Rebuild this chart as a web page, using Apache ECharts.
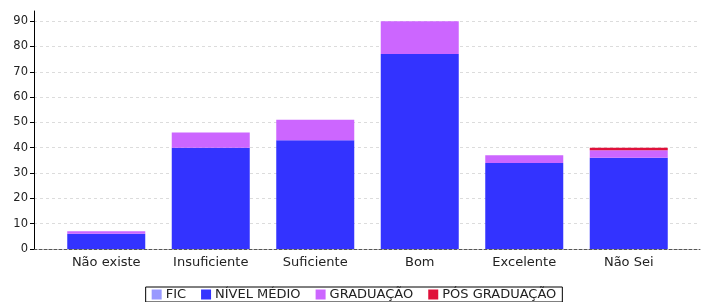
<!DOCTYPE html>
<html>
<head>
<meta charset="utf-8">
<script src="https://cdn.jsdelivr.net/npm/echarts@6/dist/echarts.min.js"></script>
<style>
  html, body { margin: 0; padding: 0; background: #fff; }
  #chart { width: 708px; height: 302px; }
</style>
</head>
<body>
<div id="chart"></div>
<script>
// categorias e valores
var categories = ['Não existe', 'Insuficiente', 'Suficiente', 'Bom', 'Excelente', 'Não Sei'];
var seriesNames = ['FIC', 'NÍVEL MÉDIO', 'GRADUAÇÃO', 'PÓS GRADUAÇÃO'];
var ficData = [0, 0, 0, 0, 0, 0];
var nivelMedioData = [6, 40, 43, 77, 34, 36];
var graduacaoData = [1, 6, 8, 13, 3, 3];
var posGraduacaoData = [0, 0, 0, 0, 0, 1];
var colors = ['#9999ff', '#3333ff', '#cc66ff', '#e0103a'];

var FONT = 'DejaVu Sans';
var Y_MAX = 94;

var chart = echarts.init(document.getElementById('chart'));

function barSeries(name, data, color) {
    return {
        name: name,
        type: 'bar',
        stack: 'total',
        xAxisIndex: 1,
        yAxisIndex: 1,
        barWidth: 78,
        data: data,
        itemStyle: { color: color },
        emphasis: { disabled: true }
    };
}

var option = {
    animation: false,
    backgroundColor: '#fff',
    textStyle: { fontFamily: FONT },
    // grid 0: eixo Y e linha de base ocupando toda a área
    // grid 1: barras com margens laterais
    grid: [
        { left: 34, right: 8, top: 11, bottom: 53 },
        { left: 54, right: 27, top: 11, bottom: 53 }
    ],
    legend: {
        data: seriesNames,
        bottom: 0,
        left: 'center',
        icon: 'rect',
        itemWidth: 10,
        itemHeight: 10,
        itemGap: 15,
        padding: [1, 6, 1, 6],
        borderColor: '#000',
        borderWidth: 1,
        textStyle: { fontFamily: FONT, fontSize: 13, color: '#222', padding: [0, 0, 0, -1] }
    },
    xAxis: [
        {
            gridIndex: 0,
            type: 'value',
            min: 0,
            max: 1,
            axisLine: { show: true, lineStyle: { color: '#555', type: [3, 2] } },
            axisTick: { show: false },
            axisLabel: { show: false },
            splitLine: { show: false }
        },
        {
            gridIndex: 1,
            type: 'category',
            data: categories,
            axisLine: { show: false },
            axisTick: { show: false },
            axisLabel: { fontFamily: FONT, fontSize: 13, color: '#222', margin: 7 }
        }
    ],
    yAxis: [
        {
            gridIndex: 0,
            type: 'value',
            min: 0,
            max: Y_MAX,
            interval: 10,
            axisLine: { show: true, lineStyle: { color: '#000', width: 1 } },
            axisTick: { show: true, length: 4, lineStyle: { color: '#000' } },
            axisLabel: { fontFamily: FONT, fontSize: 11.5, color: '#222', margin: 6, showMaxLabel: false },
            splitLine: { show: true, showMaxLine: false, lineStyle: { color: '#dcdcdc', type: [3, 3] } }
        },
        {
            gridIndex: 1,
            type: 'value',
            min: 0,
            max: Y_MAX,
            show: false
        }
    ],
    series: [
        barSeries(seriesNames[0], ficData, colors[0]),
        barSeries(seriesNames[1], nivelMedioData, colors[1]),
        barSeries(seriesNames[2], graduacaoData, colors[2]),
        barSeries(seriesNames[3], posGraduacaoData, colors[3])
    ]
};

chart.setOption(option);
</script>
</body>
</html>
